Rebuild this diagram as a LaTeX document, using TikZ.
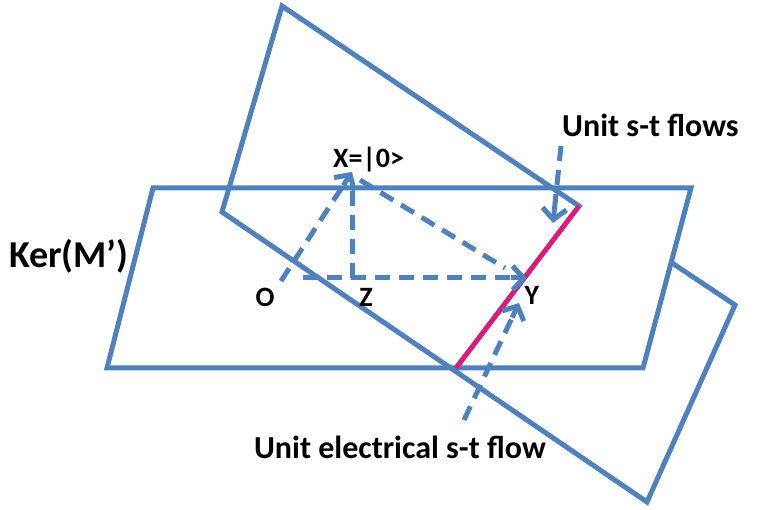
\documentclass[tikz,border=0pt]{standalone}
\usepackage{fontspec}
\setmainfont{Carlito}
\usetikzlibrary{arrows.meta,calc}
\definecolor{planeblue}{RGB}{79,129,189}
\definecolor{pinkline}{RGB}{228,22,122}
\begin{document}
\begin{tikzpicture}[x=1pt,y=-1pt,
  planeedge/.style={draw=planeblue,line width=5pt,line join=miter},
  dashline/.style={draw=planeblue,line width=5pt,dash pattern=on 15pt off 9pt},
  headline/.style={draw=planeblue,line width=5pt,solid,-{Straight Barb[length=11pt,width=24pt]}},
  biglabel/.style={font=\fontsize{32}{38}\selectfont\bfseries,inner sep=0pt},
  kerlabel/.style={font=\fontsize{38}{40}\selectfont\bfseries,inner sep=0pt},
  smalllabel/.style={font=\fontsize{28}{32}\selectfont\bfseries,inner sep=0pt}]
\useasboundingbox (0,0) rectangle (774,510);
% Ker plane
\coordinate (k1) at (153,188);
\coordinate (k2) at (691,188);
\coordinate (k3) at (643,368);
\coordinate (k4) at (107,368);
% tilted plane
\coordinate (t1) at (282,6);
\coordinate (t2) at (222,212);
\coordinate (t3) at (647,502);
\coordinate (t4) at (735,305);
\coordinate (t5) at (672,263);
\coordinate (c1) at (579,206);
\coordinate (c2) at (456,368);
% points
\coordinate (O) at (281,281);
\coordinate (X) at (352,172);
\coordinate (Z) at (352,278);
\coordinate (Zt) at (352,188);
\coordinate (Xr) at (360,180);
\coordinate (Ye) at (505,268);
\coordinate (Hs) at (303,278);
\coordinate (Y) at (527,278);
\coordinate (a1s) at (561,146);
\coordinate (a1e) at (553,223);
\coordinate (a2s) at (464,420);
\coordinate (a2e) at (519,303);

\draw[planeedge] (k1) -- (k2) -- (k3) -- (k4) -- cycle;
\draw[planeedge] (t5) -- (t4) -- (t3) -- (t2) -- (t1) -- (c1) -- (c2);
\draw[draw=pinkline,line width=4.5pt] (c1) -- (c2);

\draw[dashline,shorten >=14pt] (O) -- (X);
\draw[headline] ($(X)!16pt!(O)$) -- (X);
\draw[dashline] (Z) -- (Zt);
\draw[dashline] (Xr) -- (Ye);
\draw[dashline,shorten >=14pt] (Hs) -- (Y);
\draw[headline] ($(Y)!16pt!(Hs)$) -- (Y);
\draw[dashline,shorten >=14pt] (a1s) -- (a1e);
\draw[headline] ($(a1e)!16pt!(a1s)$) -- (a1e);
\draw[dashline,shorten >=14pt] (a2s) -- (a2e);
\draw[headline] ($(a2e)!16pt!(a2s)$) -- (a2e);

\node[smalllabel,anchor=base west] (lx) at (333,168) {X=|0>};
\node[smalllabel,anchor=base] (lo) at (265,307) {O};
\node[smalllabel,anchor=base] (lz) at (366,307) {Z};
\node[smalllabel,anchor=base] (ly) at (532,305) {Y};
\node[kerlabel,anchor=base west] (lk) at (9,268) {Ker(M’)};
\node[biglabel,anchor=base west] (lu) at (562,137) {Unit s-t flows};
\node[biglabel,anchor=base east] (le) at (546,458) {Unit electrical s-t flow};
\end{tikzpicture}
\end{document}
